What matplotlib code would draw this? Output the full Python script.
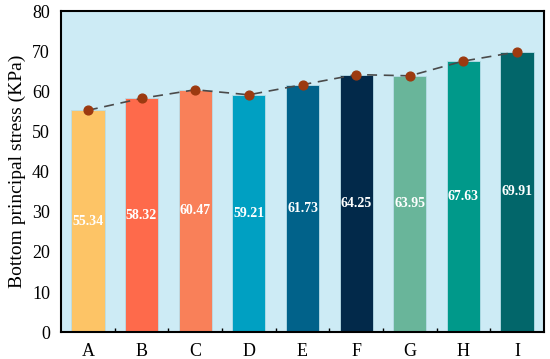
import numpy as np
import matplotlib.pyplot as plt

plt.rcParams['font.family'] = ['Liberation Serif', 'DejaVu Serif']

# données
categories = ["A", "B", "C", "D", "E", "F", "G", "H", "I"]
valeurs = [55.34, 58.32, 60.47, 59.21, 61.73, 64.25, 63.95, 67.63, 69.91]
couleurs = ["#FDC466", "#FE6A4B", "#F98059", "#00A0C2", "#01628A",
            "#02294A", "#69B59A", "#00998A", "#02666A"]

fig = plt.figure(figsize=(5.50, 3.59), dpi=100)
ax = fig.add_axes([0.111, 0.075, 0.878, 0.893])
ax.set_facecolor("#CDEBF5")

x = np.arange(len(categories))
bars = ax.bar(x, valeurs, width=0.62, color=couleurs, edgecolor="#B8DDE8",
              linewidth=0.6, zorder=2)
ax.plot(x, valeurs, ls=(0, (6, 4)), color="#4A4A4A", lw=1.2, zorder=3)
ax.scatter(x, valeurs, s=40, color="#9C3A10", zorder=4)

for xi, v in zip(x, valeurs):
    ax.text(xi, v / 2, f"{v:.2f}", ha="center", va="center", color="white",
            fontsize=10, fontweight="bold", zorder=5)

ax.set_xlim(-0.5, len(categories) - 0.5)
ax.set_ylim(0, 80)
ax.set_xticks(x)
ax.set_xticklabels(categories, fontsize=13)
ax.tick_params(axis="x", which="major", length=0, pad=8)
ax.set_xticks(np.arange(0.5, len(categories) - 1, 1), minor=True)
ax.tick_params(axis="x", which="minor", direction="in", length=3, width=1)
ax.set_yticks(np.arange(0, 81, 10))
ax.tick_params(axis="y", labelsize=13, length=0, pad=8)
ax.set_ylabel("Bottom principal stress (KPa)", fontsize=14)

for s in ax.spines.values():
    s.set_linewidth(1.5)
    s.set_color("black")

fig.savefig("out.png", dpi=100)
